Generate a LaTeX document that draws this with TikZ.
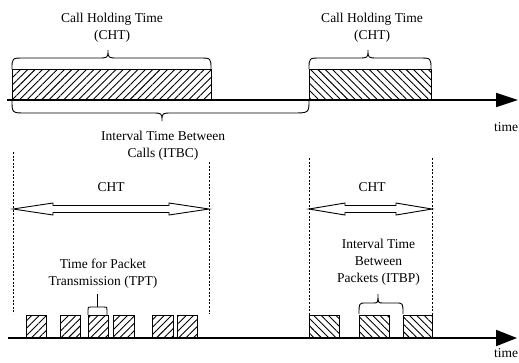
\documentclass[tikz,border=0pt]{standalone}
\usepackage{fontspec}
\setmainfont{Liberation Serif}
\usetikzlibrary{arrows.meta,patterns.meta}
\begin{document}
\begin{tikzpicture}[x=1pt,y=-1pt,
  lbl/.style={font=\fontsize{13.5}{17}\selectfont, align=center, inner sep=0pt},
  hatchNE/.style={draw, line width=1pt, pattern={Lines[angle=45,distance=5.2pt,line width=0.9pt]}},
  hatchNW/.style={draw, line width=1pt, pattern={Lines[angle=-45,distance=5.2pt,line width=0.9pt]}},
  axis/.style={line width=2pt, -{Triangle[length=22pt,width=14pt]}},
  guide/.style={line width=0.8pt, dash pattern=on 2pt off 1.6pt},
  bracepath/.style={line width=0.9pt},
  dbl/.style={line width=0.9pt, fill=white}]
\useasboundingbox (0,0) rectangle (519,362);

% ---------- top timeline ----------
\draw[hatchNE] (12,69) rectangle (211,100);
\draw[hatchNW] (309,69) rectangle (431,100);
\coordinate (ax1s) at (7,100);
\coordinate (ax1e) at (518,100);
\draw[axis] (ax1s) -- (ax1e);

% braces above calls
\draw[bracepath] (12,69) .. controls (12,58) .. (24,58) -- (98,58)
  .. controls (108,58) .. (108,50) .. controls (108,58) .. (118,58) -- (199,58)
  .. controls (211,58) .. (211,69);
\draw[bracepath] (309,69) .. controls (309,58) .. (321,58) -- (358,58)
  .. controls (368,58) .. (368,50) .. controls (368,58) .. (378,58) -- (419,58)
  .. controls (431,58) .. (431,69);
% brace below (ITBC)
\draw[bracepath] (12,100) .. controls (12,113) .. (26,113) -- (152,113)
  .. controls (162,113) .. (162,121) .. controls (162,113) .. (172,113) -- (292,113)
  .. controls (309,113) .. (309,100);

\node[lbl] (cht1) at (112,27.5) {Call Holding Time\\(CHT)};
\node[lbl] (cht2) at (372,27.5) {Call Holding Time\\(CHT)};
\node[lbl] (itbc) at (163,146) {Interval Time Between\\Calls (ITBC)};
\node[lbl] (time1) at (506,127) {time};

% ---------- bottom timeline ----------
\draw[guide] (13,152) -- (13,314);
\draw[guide] (209,162) -- (209,314);
\draw[guide] (309,158) -- (309,315);
\draw[guide] (432,158) -- (432,315);

% double arrows
\draw[dbl] (13,209) -- (53,203) -- (53,205.5) -- (169,205.5) -- (169,203) -- (209,209)
  -- (169,215) -- (169,212.5) -- (53,212.5) -- (53,215) -- cycle;
\draw[dbl] (309,209) -- (345,203) -- (345,205.5) -- (396,205.5) -- (396,203) -- (432,209)
  -- (396,215) -- (396,212.5) -- (345,212.5) -- (345,215) -- cycle;
\node[lbl] (chtb1) at (111,187) {CHT};
\node[lbl] (chtb2) at (372,187) {CHT};

% packets
\foreach \a/\b in {26/46,60/80,88/108,113/134,152/173,177/197}
  \draw[hatchNE] (\a,315) rectangle (\b,338);
\foreach \a/\b in {309/339,359/389,403/432}
  \draw[hatchNW] (\a,315) rectangle (\b,338);

\coordinate (ax2s) at (8,338);
\coordinate (ax2e) at (517,338);
\draw[line width=2pt, -{Triangle[length=21pt,width=16pt]}] (ax2s) -- (ax2e);

% TPT bracket
\draw[bracepath] (88,315) -- (88,310) .. controls (88,307) .. (91,307) -- (104,307)
  .. controls (107,307) .. (107,310) -- (107,315);
\draw[bracepath] (97.5,307) -- (97.5,294);
% ITBP brace
\draw[bracepath] (359,314) .. controls (359,303) .. (366,303) -- (373,303)
  .. controls (378,303) .. (378,294) .. controls (378,303) .. (383,303) -- (396,303)
  .. controls (403,303) .. (403,314);

\node[lbl] (tpt) at (103,273.5) {Time for Packet\\Transmission (TPT)};
\node[lbl] (itbp) at (378.5,262.5) {Interval Time\\Between\\Packets (ITBP)};
\node[lbl, anchor=north] (time2) at (506,348) {time};
\end{tikzpicture}
\end{document}
